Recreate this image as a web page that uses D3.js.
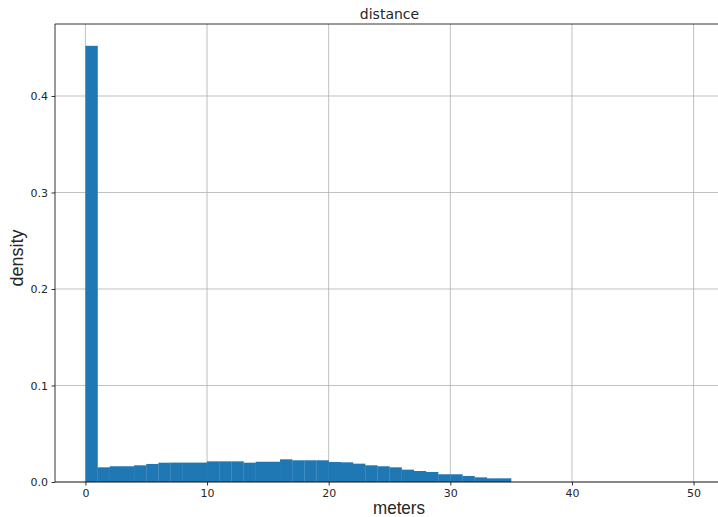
<!DOCTYPE html>
<html>
<head>
    <script src="https://d3js.org/d3.v7.min.js"></script>
    <style>
        body { margin: 0; background: #fff; }
        text { font-family: "DejaVu Sans", sans-serif; }
        .grid line { stroke: #b0b0b0; stroke-width: 0.8; }
        .axlabel { font-family: "Liberation Sans Narrow", "Liberation Sans", sans-serif; }
    </style>
</head>
<body>
<script>
    // histogram bins: width 1, from 0 to 50
    var binStarts = d3.range(0, 50);
    var density = [
        0.452, 0.0152, 0.0163, 0.0163, 0.0173, 0.0187, 0.0200, 0.0201, 0.0201, 0.0201,
        0.0214, 0.0214, 0.0214, 0.0200, 0.0210, 0.0210, 0.0235, 0.0225, 0.0225, 0.0225,
        0.0207, 0.0204, 0.0190, 0.0173, 0.0163, 0.0152, 0.0128, 0.0114, 0.0104, 0.0080,
        0.0080, 0.0062, 0.0048, 0.0038, 0.0038, 0, 0, 0, 0, 0,
        0, 0, 0, 0, 0, 0, 0, 0, 0, 0
    ];
    var xTicks = [0, 10, 20, 30, 40, 50];
    var yTicks = [0, 0.1, 0.2, 0.3, 0.4];

    var width = 718, height = 517;
    var plotLeft = 55, plotRight = 724, plotTop = 24, plotBottom = 482;

    var svg = d3.select("body").append("svg")
        .attr("width", width)
        .attr("height", height);

    var x = d3.scaleLinear().domain([-2.5, 52.5]).range([plotLeft, plotRight]);
    var y = d3.scaleLinear().domain([0, 0.4746]).range([plotBottom, plotTop]);

    // grid
    var grid = svg.append("g").attr("class", "grid");
    grid.selectAll(".gx").data(xTicks).enter().append("line")
        .attr("x1", function (d) { return x(d); })
        .attr("x2", function (d) { return x(d); })
        .attr("y1", plotTop).attr("y2", plotBottom);
    grid.selectAll(".gy").data(yTicks).enter().append("line")
        .attr("x1", plotLeft).attr("x2", plotRight)
        .attr("y1", function (d) { return y(d); })
        .attr("y2", function (d) { return y(d); });

    // bars
    svg.append("g").selectAll("rect")
        .data(binStarts)
        .enter().append("rect")
        .attr("x", function (d) { return x(d); })
        .attr("width", function (d) { return x(d + 1) - x(d) + 0.2; })
        .attr("y", function (d, i) { return y(density[i]); })
        .attr("height", function (d, i) { return plotBottom - y(density[i]); })
        .attr("fill", "#1f77b4");

    // axes
    var xAxis = d3.axisBottom(x).tickValues(xTicks).tickSize(3.5).tickPadding(3.5)
        .tickFormat(d3.format("d"));
    var yAxis = d3.axisLeft(y).tickValues(yTicks).tickSize(3.5).tickPadding(3.5)
        .tickFormat(d3.format(".1f"));

    var gx = svg.append("g").attr("transform", "translate(0," + plotBottom + ")").call(xAxis);
    var gy = svg.append("g").attr("transform", "translate(" + plotLeft + ",0)").call(yAxis);
    [gx, gy].forEach(function (g) {
        g.select(".domain").remove();
        g.selectAll(".tick line").attr("stroke", "#000").attr("stroke-width", 0.8);
        g.selectAll(".tick text").attr("fill", "#262626")
            .style("font-family", "DejaVu Sans, sans-serif").style("font-size", "11px");
    });

    // spines
    svg.append("line").attr("x1", plotLeft).attr("x2", plotRight).attr("y1", plotBottom).attr("y2", plotBottom)
        .attr("stroke", "#000").attr("stroke-width", 0.8);
    svg.append("line").attr("x1", plotLeft).attr("x2", plotRight).attr("y1", plotTop).attr("y2", plotTop)
        .attr("stroke", "#000").attr("stroke-width", 0.8);
    svg.append("line").attr("x1", plotLeft).attr("x2", plotLeft).attr("y1", plotTop).attr("y2", plotBottom)
        .attr("stroke", "#000").attr("stroke-width", 0.8);

    // labels
    svg.append("text")
        .attr("x", (plotLeft + plotRight) / 2).attr("y", 19)
        .attr("text-anchor", "middle")
        .style("font-size", "14px").attr("fill", "#262626")
        .text("distance");

    svg.append("text")
        .attr("class", "axlabel")
        .attr("x", 399).attr("y", 514)
        .attr("text-anchor", "middle")
        .attr("textLength", 52).attr("lengthAdjust", "spacingAndGlyphs")
        .style("font-size", "19px").attr("fill", "#262626")
        .text("meters");

    svg.append("text")
        .attr("class", "axlabel")
        .attr("transform", "translate(23,258) rotate(-90)")
        .attr("text-anchor", "middle")
        .attr("textLength", 57).attr("lengthAdjust", "spacingAndGlyphs")
        .style("font-size", "19px").attr("fill", "#262626")
        .text("density");
</script>
</body>
</html>
